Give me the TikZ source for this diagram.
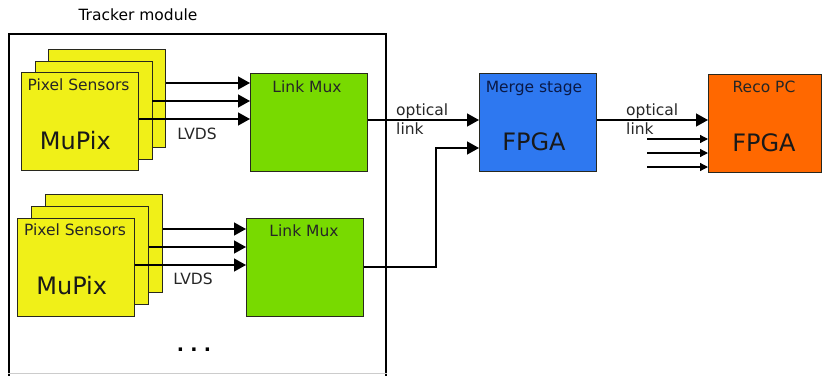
\documentclass[tikz,border=0pt]{standalone}
\usepackage{fontspec}
\setmainfont{DejaVu Sans}
\usetikzlibrary{arrows.meta}
\definecolor{ysens}{RGB}{240,240,24}
\definecolor{gmux}{RGB}{120,218,0}
\definecolor{bmerge}{RGB}{46,120,240}
\definecolor{oreco}{RGB}{255,104,0}
\definecolor{boxline}{RGB}{40,40,30}
\begin{document}
\begin{tikzpicture}[x=1pt,y=-1pt,
  blk/.style={draw=boxline, line width=0.9pt, anchor=north west, inner sep=0pt},
  sens/.style={blk, fill=ysens, minimum width=117pt, minimum height=98pt},
  mux/.style={blk, fill=gmux, minimum width=117pt, minimum height=98pt},
  lbl/.style={font=\fontsize{15.5}{18}\selectfont, anchor=base, inner sep=0pt, text=black!85},
  big/.style={font=\fontsize{24}{28}\selectfont, anchor=base, inner sep=0pt, text=black!90},
  arr/.style={line width=1.4pt, -{Triangle[length=12pt,width=13pt]}},
  sarr/.style={line width=1.2pt, -{Triangle[length=8pt,width=8pt]}},
  wire/.style={line width=1.4pt}]
\useasboundingbox (0,0) rectangle (822,375);

% tracker module frame
\node[draw=black, line width=2pt, anchor=north west, minimum width=377pt, minimum height=350pt, inner sep=0pt] (frame) at (8,33) {};
\draw[black!20, line width=1pt] (frame.west |- 0,373) -- (frame.east |- 0,373);
\node[lbl, text=black] (ttl) at (138,20) {Tracker module};

% top sensor stack
\node[sens] (s1a) at (48,49) {};
\node[sens] (s1b) at (34.5,61) {};
\node[sens] (s1c) at (21,72) {};
\node[lbl] (s1t) at (78.5,90.7) {Pixel Sensors};
\node[big] (s1m) at (75.3,149) {MuPix};

% top link mux
\node[mux] (m1) at (250,73) {};
\node[lbl] (m1t) at (307,92) {Link Mux};

% bottom sensor stack
\node[sens] (s2a) at (45,194) {};
\node[sens] (s2b) at (31,206) {};
\node[sens] (s2c) at (17,218) {};
\node[lbl] (s2t) at (75,235) {Pixel Sensors};
\node[big] (s2m) at (71.7,294.3) {MuPix};

% bottom link mux
\node[mux] (m2) at (246,218) {};
\node[lbl] (m2t) at (304,236) {Link Mux};

% LVDS connections
\draw[arr] (s1a.east |- 0,83) -- (m1.west |- 0,83);
\draw[arr] (s1b.east |- 0,101) -- (m1.west |- 0,101);
\draw[arr] (s1c.east |- 0,119) -- (m1.west |- 0,119);
\node[lbl] (lv1) at (197,139.3) {LVDS};

\draw[arr] (s2a.east |- 0,229) -- (m2.west |- 0,229);
\draw[arr] (s2b.east |- 0,247) -- (m2.west |- 0,247);
\draw[arr] (s2c.east |- 0,265) -- (m2.west |- 0,265);
\node[lbl] (lv2) at (193,284) {LVDS};

\node[font=\fontsize{19}{22}\selectfont\bfseries, anchor=base, inner sep=0pt] (dots) at (194,351) {.\,\,.\,\,.};

% merge stage
\node[blk, fill=bmerge, minimum width=117pt, minimum height=98pt] (mg) at (479,73) {};
\node[lbl, text={rgb,255:red,10;green,25;blue,70}] (mgt) at (534,92) {Merge stage};
\node[big] (mgf) at (534,150) {FPGA};

\draw[arr] (m1.east |- 0,120) -- (mg.west |- 0,120);
\draw[arr] (m2.east |- 0,267) -| (436,148) -- (mg.west |- 0,148);
\node[lbl, anchor=base west] (op1) at (396,115) {optical};
\node[lbl, anchor=base west] (lk1) at (396,134) {link};

% reco PC
\node[blk, fill=oreco, minimum width=113pt, minimum height=98pt] (rc) at (708,74) {};
\node[lbl] (rct) at (764,92) {Reco PC};
\node[big] (rcf) at (764,151) {FPGA};

\draw[arr] (mg.east |- 0,120) -- (rc.west |- 0,120);
\node[lbl, anchor=base west] (op2) at (626,115) {optical};
\node[lbl, anchor=base west] (lk2) at (626,134) {link};
\coordinate (i1) at (647,139);
\coordinate (i2) at (647,153);
\coordinate (i3) at (647,167);
\draw[sarr] (i1) -- (rc.west |- i1);
\draw[sarr] (i2) -- (rc.west |- i2);
\draw[sarr] (i3) -- (rc.west |- i3);
\end{tikzpicture}
\end{document}
